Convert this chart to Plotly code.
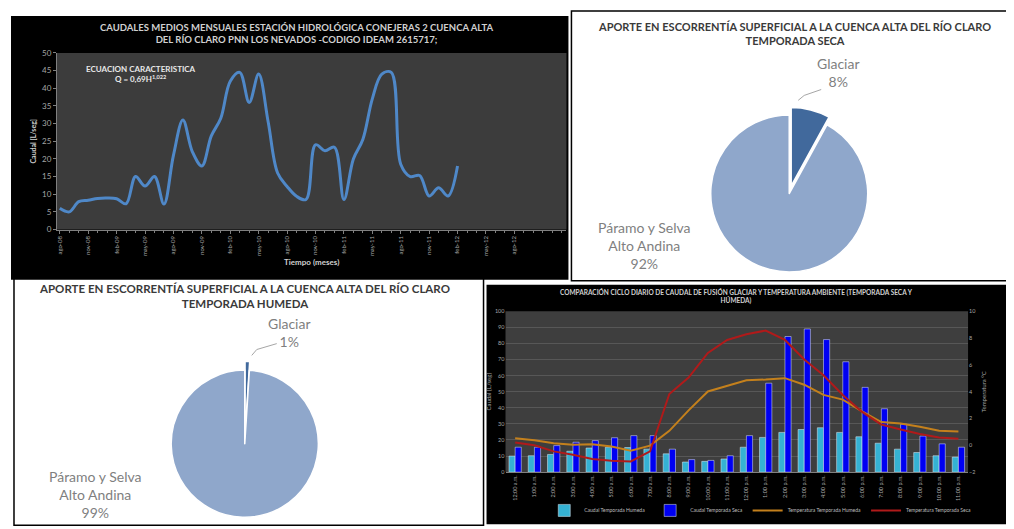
import plotly.graph_objects as go

W, H = 1014, 529

# ---------------- DATA ----------------
# Top-left: monthly mean discharge (L/s), Conejeras 2
caudal_mensual = [6, 5, 7.9, 8.3, 8.8, 8.9, 8.7, 7.3, 15, 12.3, 15, 7.2, 21, 31, 22, 18,
                  26.5, 31.5, 42, 44.5, 36, 44, 30.5, 16, 12.2, 9.4, 8.5, 24, 22.3, 23.3,
                  8.5, 20, 25.5, 37, 44, 44.5, 18.5, 15, 15.3, 9.5, 11.8, 9.5, 18]
meses_ticks = ["ago-08", "nov-08", "feb-09", "may-09", "ago-09", "nov-09", "feb-10",
               "may-10", "ago-10", "nov-10", "feb-11", "may-11", "ago-11", "nov-11",
               "feb-12", "may-12", "ago-12"]

# Pies
pie_labels = ["Glaciar", "Páramo y Selva<br>Alto Andina"]
pie_seca = [8, 92]
pie_humeda = [1, 99]

# Bottom-right: daily cycle
horas = ["12:00 a.m.", "1:00 a.m.", "2:00 a.m.", "3:00 a.m.", "4:00 a.m.", "5:00 a.m.",
         "6:00 a.m.", "7:00 a.m.", "8:00 a.m.", "9:00 a.m.", "10:00 a.m.", "11:00 a.m.",
         "12:00 p.m.", "1:00 p.m.", "2:00 p.m.", "3:00 p.m.", "4:00 p.m.", "5:00 p.m.",
         "6:00 p.m.", "7:00 p.m.", "8:00 p.m.", "9:00 p.m.", "10:00 p.m.", "11:00 p.m."]
caudal_humeda = [10, 10.2, 11, 13, 15, 15.5, 15.3, 14.3, 11.4, 6.3, 6.7, 8.2,
                 15.5, 21.6, 24.7, 26.5, 27.6, 24.7, 22, 18, 14.3, 12.2, 10.2, 9.4]
caudal_seca = [15.5, 15.5, 16.5, 18.6, 19.6, 21.4, 22.7, 22.7, 14.3, 7.8, 7.3, 10.2,
               22.7, 55.3, 84.3, 89, 82.4, 68.6, 52.7, 39.4, 29.8, 22.4, 17.6, 15.5]
temp_humeda = [0.52, 0.38, 0.16, 0.04, 0.08, -0.08, -0.40, -0.02, 1.08, 2.61, 4.02, 4.44,
               4.85, 4.91, 5.01, 4.52, 3.76, 3.41, 2.54, 1.74, 1.62, 1.38, 1.08, 1.04]
temp_seca = [0.21, 0.00, -0.45, -0.70, -1.02, -1.15, -1.20, -0.45, 3.83, 5.06, 6.89, 7.86,
             8.28, 8.56, 7.86, 6.40, 5.22, 3.76, 2.49, 1.55, 1.18, 0.84, 0.59, 0.50]


def px(x):
    return x / W


def py(y):
    return 1 - y / H


FONT = "Lato, 'Open Sans', sans-serif"
fig = go.Figure()

# ---- top-left line ----
fig.add_trace(go.Scatter(
    x=list(range(len(caudal_mensual))), y=caudal_mensual, mode="lines",
    line=dict(color="#4f88c8", width=3, shape="spline", smoothing=1),
    xaxis="x", yaxis="y", showlegend=False, name="Conejeras 2"))

# ---- pies ----
def pie_domain(cx, cy, r, pull):
    h = r * (1 + pull)
    return dict(x=[px(cx - h), px(cx + h)], y=[py(cy + h), py(cy - h)])

pie_colors = ["#41699c", "#8fa7cb"]
fig.add_trace(go.Pie(
    labels=pie_labels, values=pie_seca, sort=False, direction="clockwise", rotation=0,
    pull=[0.1, 0], textinfo="none", showlegend=False,
    marker=dict(colors=pie_colors, line=dict(color="white", width=1.5)),
    domain=pie_domain(781, 184, 80, 0.1)))
fig.add_trace(go.Pie(
    labels=pie_labels, values=pie_humeda, sort=False, direction="clockwise", rotation=0,
    pull=[0.12, 0], textinfo="none", showlegend=False,
    marker=dict(colors=pie_colors, line=dict(color="white", width=1.5)),
    domain=pie_domain(236, 439, 75, 0.12)))

# ---- bottom-right bars & lines ----
fig.add_trace(go.Bar(x=horas, y=caudal_humeda, name="Caudal Temporada Humeda",
                     marker=dict(color="#35b2d3"), xaxis="x2", yaxis="y2"))
fig.add_trace(go.Bar(x=horas, y=caudal_seca, name="Caudal Temporada Seca",
                     marker=dict(color="#0000f2"), xaxis="x2", yaxis="y2"))
fig.add_trace(go.Scatter(x=horas, y=temp_humeda, name="Temperatura Temporada Humeda",
                         mode="lines", line=dict(color="#c4801c", width=2),
                         xaxis="x2", yaxis="y3"))
fig.add_trace(go.Scatter(x=horas, y=temp_seca, name="Temperatura Temporada Seca",
                         mode="lines", line=dict(color="#b01a1a", width=2),
                         xaxis="x2", yaxis="y3"))

# ---- background panels ----
def rect(x0, y0, x1, y1, fill, line=None, width=0):
    return dict(type="rect", xref="paper", yref="paper", layer="below",
                x0=px(x0), x1=px(x1), y0=py(y1), y1=py(y0), fillcolor=fill,
                line=dict(color=line or fill, width=width))

shapes = [
    rect(2, 3, 560, 272, "#000000"),
    rect(48, 40.7, 558, 220.7, "#3c3c3c"),
    rect(563, -2, 1009, 273, "#ffffff", "#000000", 1.5),
    rect(478, 277, 1010, 521, "#000000"),
    rect(497, 304, 960, 468, "#3e3e3e"),
    rect(5, 271, 475, 522, "#ffffff", "#000000", 1.5),
]
# leader lines for pie labels
def seg(x0, y0, x1, y1):
    return dict(type="line", xref="paper", yref="paper", x0=px(x0), y0=py(y0),
                x1=px(x1), y1=py(y1), line=dict(color="#a6a6a6", width=1))

shapes += [seg(813, 78, 796, 84), seg(796, 84, 790, 89),
           seg(268, 337, 248, 343), seg(248, 343, 243, 349)]

annotations = [
    dict(text="<b>CAUDALES MEDIOS MENSUALES ESTACIÓN HIDROLÓGICA CONEJERAS 2 CUENCA ALTA<br>"
              "DEL RÍO CLARO PNN LOS NEVADOS -CODIGO IDEAM 2615717;</b>",
         x=px(288), y=py(21), font=dict(size=9.5, color="#d0d0d0", family=FONT)),
    dict(text="<b>ECUACION CARACTERISTICA<br>Q = 0,69H<sup>1,022</sup></b>",
         x=px(132), y=py(62), font=dict(size=8, color="#e8e8e8", family=FONT)),
    dict(text="<b>APORTE EN ESCORRENTÍA SUPERFICIAL A LA CUENCA ALTA DEL RÍO CLARO<br>"
              "TEMPORADA SECA</b>",
         x=px(786), y=py(21), font=dict(size=11, color="#3a3a3a", family=FONT)),
    dict(text="<b>APORTE EN ESCORRENTÍA SUPERFICIAL A LA CUENCA ALTA DEL RÍO CLARO<br>"
              "TEMPORADA HUMEDA</b>",
         x=px(236), y=py(288), font=dict(size=11.5, color="#3a3a3a", family=FONT)),
    dict(text="<b>COMPARACIÓN CICLO DIARIO DE CAUDAL DE FUSIÓN GLACIAR Y TEMPERATURA AMBIENTE (TEMPORADA SECA Y<br>"
              "HÚMEDA)</b>",
         x=px(728), y=py(289), font=dict(size=6.5, color="#d0d0d0", family=FONT)),
    # pie labels
    dict(text=f"{pie_labels[0]}<br>{pie_seca[0]}%", x=px(830), y=py(61),
         font=dict(size=14, color="#7f7f7f", family=FONT)),
    dict(text=f"{pie_labels[1]}<br>{pie_seca[1]}%", x=px(636), y=py(237),
         font=dict(size=14, color="#7f7f7f", family=FONT)),
    dict(text=f"{pie_labels[0]}<br>{pie_humeda[0]}%", x=px(281), y=py(326),
         font=dict(size=14, color="#7f7f7f", family=FONT)),
    dict(text=f"{pie_labels[1]}<br>{pie_humeda[1]}%", x=px(87), y=py(491),
         font=dict(size=14, color="#7f7f7f", family=FONT)),
]
for a in annotations:
    a.update(xref="paper", yref="paper", showarrow=False, xanchor="center", yanchor="middle")

tick_grey = "#a6a6a6"
fig.update_layout(
    width=W, height=H, margin=dict(l=0, r=0, t=0, b=0),
    paper_bgcolor="white", plot_bgcolor="rgba(0,0,0,0)",
    font=dict(family=FONT, color=tick_grey),
    shapes=shapes, annotations=annotations,
    barmode="group", bargap=0.36, bargroupgap=0,
    xaxis=dict(domain=[px(48), px(558)], anchor="y", range=[-0.3, 53.5],
               tickvals=list(range(0, 3 * len(meses_ticks), 3)), ticktext=meses_ticks,
               tickangle=-90, tickfont=dict(size=6, color=tick_grey),
               showgrid=False, zeroline=False, showline=True, linecolor="#808080",
               ticks="outside", ticklen=3, tickcolor="#808080",
               minor=dict(dtick=1, ticks="outside", ticklen=2, tickcolor="#808080"),
               title=dict(text="<b>Tiempo (meses)</b>", font=dict(size=8, color="#d0d0d0"),
                          standoff=4)),
    yaxis=dict(domain=[py(220.7), py(40.7)], anchor="x", range=[0, 50], dtick=5,
               tickfont=dict(size=8, color=tick_grey), showgrid=False, zeroline=False,
               showline=True, linecolor="#808080", ticks="outside", ticklen=3,
               tickcolor="#808080",
               title=dict(text="<b>Caudal [L/seg]</b>", font=dict(size=7, color="#d0d0d0"),
                          standoff=4)),
    xaxis2=dict(domain=[px(497), px(960)], anchor="y2", type="category",
                tickangle=-90, tickfont=dict(size=5.5, color=tick_grey),
                showgrid=False, zeroline=False, showline=True, linecolor="#808080"),
    yaxis2=dict(domain=[py(468), py(304)], anchor="x2", range=[0, 100], dtick=10,
                tickfont=dict(size=5.5, color=tick_grey), showgrid=True,
                gridcolor="#575757", gridwidth=1, zeroline=False,
                title=dict(text="Caudal [L/seg]", font=dict(size=6, color=tick_grey),
                           standoff=2)),
    yaxis3=dict(overlaying="y2", anchor="x2", side="right", range=[-2, 10], dtick=2,
                tickfont=dict(size=5.5, color=tick_grey), showgrid=False, zeroline=False,
                title=dict(text="Temperatura °C", font=dict(size=6, color=tick_grey),
                           standoff=6)),
    legend=dict(orientation="h", x=px(752), xanchor="center", y=py(507), yanchor="middle",
                font=dict(size=5, color="#bfbfbf"), bgcolor="rgba(0,0,0,0)",
                itemwidth=30, tracegroupgap=0),
)

fig.write_html("out.html")
